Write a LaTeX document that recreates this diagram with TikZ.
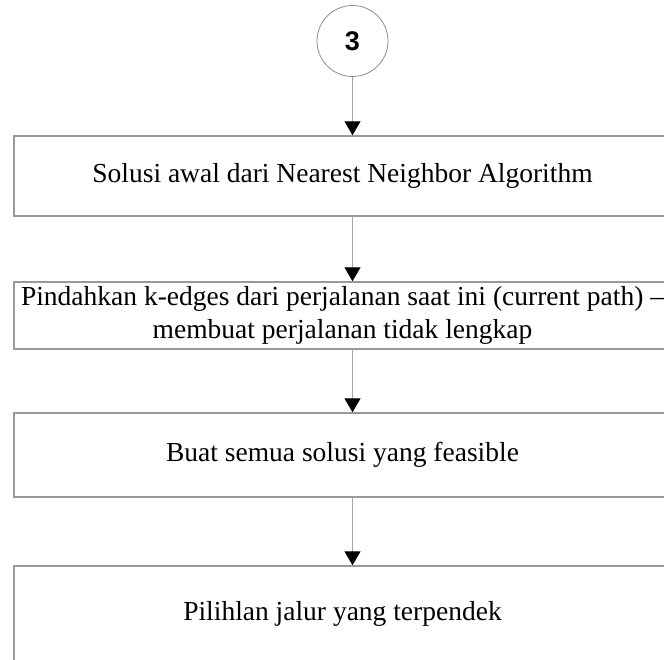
\documentclass[tikz,border=0pt]{standalone}
\usepackage{fontspec}
\setmainfont{Liberation Serif}
\newfontfamily\numfont{Liberation Sans}
\usetikzlibrary{arrows.meta}
\tikzset{
  flowbox/.style={draw=black!40, line width=1.5pt, rectangle, inner sep=0pt,
    font=\fontsize{27.5}{33}\selectfont, align=center},
  conn/.style={draw=black!35, line width=1.4pt,
    -{Triangle[width=16pt,length=14pt,color=black]}},
}
\begin{document}
\begin{tikzpicture}[x=1pt,y=-1pt]
\useasboundingbox (0,0) rectangle (664,659);
\clip (0,0) rectangle (664,659);
\node[circle, draw=black!45, line width=0.8pt, minimum size=71pt, inner sep=0pt,
  font=\numfont\bfseries\fontsize{27}{30}\selectfont] (c) at (352.5,41) {3};
\node[flowbox, minimum width=657pt, minimum height=80pt] (b1) at (342.5,176)
  {Solusi awal dari Nearest Neighbor Algorithm};
\node[flowbox, minimum width=657pt, minimum height=67pt] (b2) at (342.5,315.5)
  {Pindahkan k-edges dari perjalanan saat ini (current path) –\\membuat perjalanan tidak lengkap};
\node[flowbox, minimum width=657pt, minimum height=84pt] (b3) at (342.5,455)
  {Buat semua solusi yang feasible};
\node[flowbox, minimum width=657pt, minimum height=96pt] (b4) at (342.5,614)
  {Pilihlan jalur yang terpendek};
\draw[conn] (c.south) -- (c.south |- b1.north);
\draw[conn] (c.south |- b1.south) -- (c.south |- b2.north);
\draw[conn] (c.south |- b2.south) -- (c.south |- b3.north);
\draw[conn] (c.south |- b3.south) -- (c.south |- b4.north);
\end{tikzpicture}
\end{document}
